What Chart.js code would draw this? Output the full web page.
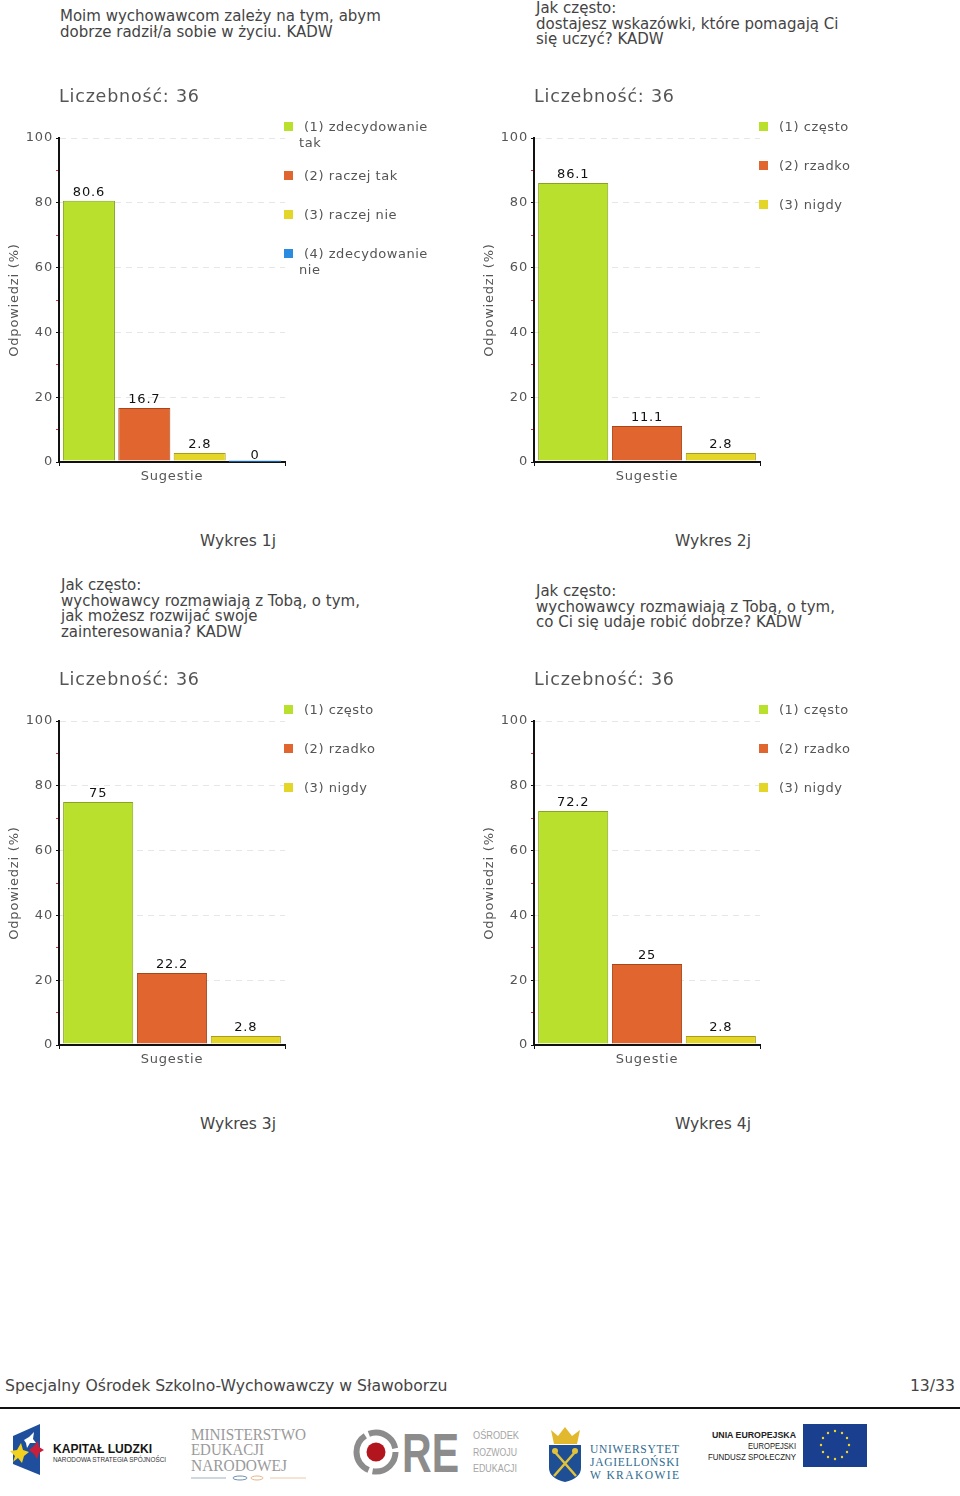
<!DOCTYPE html>
<html lang="pl"><head><meta charset="utf-8">
<script src="https://cdn.jsdelivr.net/npm/chart.js@4"></script>
<style>
html,body{margin:0;padding:0;background:#fff}
body{width:960px;height:1496px;position:relative;overflow:hidden;font-family:"DejaVu Sans",sans-serif;color:#444;filter:blur(.3px)}
canvas{position:absolute}
.q{position:absolute;font-size:15px;line-height:15.6px;white-space:pre;color:#444}
.w{position:absolute;width:200px;text-align:center;font-size:15.5px;color:#444}
.lg{position:absolute;width:140px;font-size:13px;line-height:16px;letter-spacing:.55px;color:#555}
.lg div{position:relative;text-indent:5px;margin-bottom:23px}
.lg div.two{margin-bottom:17px}
.lg i{position:absolute;left:-15px;top:3px;width:9px;height:9px}
#foot{position:absolute;left:5px;top:1376px;font-size:15.65px;color:#444}
#page{position:absolute;right:5px;top:1376px;font-size:15.65px;color:#444}
#rule{position:absolute;left:0;top:1407px;width:960px;height:2px;background:#111}
svg{position:absolute;left:0;top:1410px}
</style></head><body>
<script>
const categories = ['Sugestie'];
const values1 = [80.6, 16.7, 2.8, 0];
const values2 = [86.1, 11.1, 2.8];
const values3 = [75, 22.2, 2.8];
const values4 = [72.2, 25, 2.8];
const labelsAgree = ['(1) zdecydowanie tak', '(2) raczej tak', '(3) raczej nie', '(4) zdecydowanie nie'];
const labelsFreq = ['(1) często', '(2) rzadko', '(3) nigdy'];
const sampleTitle = 'Liczebność: 36';
const yTitle = 'Odpowiedzi (%)';
const fills = ['#b9e02c', '#e0652e', '#e4d628', '#2a8ce0'];
const edges = ['#86a420', '#a8461a', '#a89c1a', '#1a64a8'];
const q1 = 'Moim wychowawcom zależy na tym, abym\ndobrze radził/a sobie w życiu. KADW';
const q2 = 'Jak często:\ndostajesz wskazówki, które pomagają Ci\nsię uczyć? KADW';
const q3 = 'Jak często:\nwychowawcy rozmawiają z Tobą, o tym,\njak możesz rozwijać swoje\nzainteresowania? KADW';
const q4 = 'Jak często:\nwychowawcy rozmawiają z Tobą, o tym,\nco Ci się udaje robić dobrze? KADW';

const spacing = {
  id: 'spacing',
  beforeDraw(chart) { chart.ctx.letterSpacing = '0.8px'; }
};
const valueLabels = {
  id: 'valueLabels',
  afterDatasetsDraw(chart) {
    const c = chart.ctx;
    c.save();
    c.font = '13px "DejaVu Sans"';
    c.fillStyle = '#111';
    c.textAlign = 'center';
    c.textBaseline = 'middle';
    chart.data.datasets.forEach((d, i) => {
      const bar = chart.getDatasetMeta(i).data[0];
      c.fillText(String(d.data[0]), bar.x, bar.y - (d.data[0] === 0 ? 6.5 : 8.5));
    });
    c.restore();
  }
};

function place(cfg) {
  const { x, y, values, labels, q, qx, qy, name } = cfg;
  const qe = document.createElement('div');
  qe.className = 'q'; qe.textContent = q;
  qe.style.left = qx + 'px'; qe.style.top = qy + 'px';
  document.body.appendChild(qe);

  const cv = document.createElement('canvas');
  cv.width = 287; cv.height = 404;
  cv.style.left = x + 'px'; cv.style.top = (y - 52) + 'px';
  document.body.appendChild(cv);

  new Chart(cv, {
    type: 'bar',
    data: {
      labels: categories,
      datasets: values.map((v, i) => ({
        label: labels[i], data: [v],
        backgroundColor: fills[i], borderColor: edges[i], borderWidth: 1,
        base: 0.5,
        categoryPercentage: 0.98,
        barPercentage: values.length === 4 ? 0.94 : 0.95
      }))
    },
    options: {
      responsive: false, animation: false,
      layout: { padding: { left: 0, right: 2, top: 0, bottom: 0 } },
      plugins: {
        legend: { display: false }, tooltip: { enabled: false },
        title: {
          display: true, text: sampleTitle, align: 'start', fullSize: false,
          color: '#555', font: { family: '"DejaVu Sans"', size: 17.5, weight: 'normal' },
          padding: { top: 1, bottom: 30 }
        }
      },
      scales: {
        x: {
          afterFit: s => { s.height = 28; },
          border: { color: '#111', width: 2 },
          grid: { drawOnChartArea: false, tickColor: '#111', tickLength: 4 },
          ticks: { color: '#555', font: { family: '"DejaVu Sans"', size: 13 }, padding: 3 }
        },
        y: {
          min: 0, max: 100,
          afterFit: s => { s.width = 59; },
          border: { color: '#111', width: 2, dash: [6, 5] },
          title: { display: true, text: yTitle, color: '#555', font: { family: '"DejaVu Sans"', size: 13 }, padding: { top: 7, bottom: 0 } },
          grid: {
            color: c => c.tick.value % 20 === 0 ? '#e6e6e6' : 'transparent',
            tickColor: c => c.tick.value % 20 === 0 ? '#111' : '#d03040',
            tickLength: 3, tickBorderDash: []
          },
          ticks: {
            stepSize: 10, autoSkip: false, padding: 3, color: '#555',
            font: { family: '"DejaVu Sans"', size: 13 },
            callback: v => v % 20 === 0 ? String(v) : ''
          }
        }
      }
    },
    plugins: [spacing, valueLabels]
  });

  const lg = document.createElement('div');
  lg.className = 'lg';
  lg.style.left = (x + 299) + 'px'; lg.style.top = (y - 19) + 'px';
  labels.forEach((t, i) => {
    const it = document.createElement('div');
    if (t.length > 16) it.className = 'two';
    const sw = document.createElement('i');
    sw.style.background = fills[i];
    it.appendChild(sw);
    it.appendChild(document.createTextNode(t));
    lg.appendChild(it);
  });
  document.body.appendChild(lg);

  const w = document.createElement('div');
  w.className = 'w'; w.textContent = name;
  w.style.left = (x + 138) + 'px'; w.style.top = (y + 394) + 'px';
  document.body.appendChild(w);
}

place({ x: 0,   y: 138, values: values1, labels: labelsAgree, q: q1, qx: 60,  qy: 9,   name: 'Wykres 1j' });
place({ x: 475, y: 138, values: values2, labels: labelsFreq,  q: q2, qx: 536, qy: 1,   name: 'Wykres 2j' });
place({ x: 0,   y: 721, values: values3, labels: labelsFreq,  q: q3, qx: 61,  qy: 578, name: 'Wykres 3j' });
place({ x: 475, y: 721, values: values4, labels: labelsFreq,  q: q4, qx: 536, qy: 584, name: 'Wykres 4j' });
</script>
<div id="foot">Specjalny Ośrodek Szkolno-Wychowawczy w Sławoborzu</div>
<div id="page">13/33</div>
<div id="rule"></div>
<svg width="960" height="86" viewBox="0 1410 960 86" font-family="Liberation Sans">
  <polygon points="13,1436 40,1424 40,1475 13,1464" fill="#1f4f9c"/>
  <polygon points="24,1440 29,1437 34,1432 33,1439 36,1443 30,1443 27,1448 26,1443" fill="#fff"/>
  <polygon points="10,1451 17,1450 21,1443 23,1450 29,1452 24,1456 22,1463 18,1458 13,1462 15,1456" fill="#f2d21e"/>
  <polygon points="29,1450 34,1446 38,1441 39,1447 44,1450 39,1453 37,1459 34,1454" fill="#c8203a"/>
  <text x="53" y="1453" font-size="13.5" font-weight="bold" fill="#151515" textLength="99" lengthAdjust="spacingAndGlyphs">KAPITAŁ LUDZKI</text>
  <text x="53" y="1462" font-size="7" fill="#333" textLength="113" lengthAdjust="spacingAndGlyphs">NARODOWA STRATEGIA SPÓJNOŚCI</text>
  <g font-family="Liberation Serif" font-size="16.5" fill="#9a9a9a">
    <text x="191" y="1440" textLength="115" lengthAdjust="spacingAndGlyphs">MINISTERSTWO</text>
    <text x="191" y="1455" textLength="73" lengthAdjust="spacingAndGlyphs">EDUKACJI</text>
    <text x="191" y="1471" textLength="96" lengthAdjust="spacingAndGlyphs">NARODOWEJ</text>
  </g>
  <line x1="191" y1="1478" x2="226" y2="1478" stroke="#9fb0c4" stroke-width="1"/>
  <line x1="270" y1="1478" x2="306" y2="1478" stroke="#ecc9a8" stroke-width="1"/>
  <ellipse cx="240" cy="1478" rx="7" ry="2" fill="none" stroke="#6f8fb0"/>
  <ellipse cx="257" cy="1478" rx="6" ry="2" fill="none" stroke="#e5b58c"/>
  <circle cx="376" cy="1452" r="19.5" fill="none" stroke="#8c8c8c" stroke-width="6" stroke-dasharray="34 4 42 4"/>
  <circle cx="376" cy="1452" r="9.5" fill="#b3151f"/>
  <text x="402" y="1472" font-size="56" font-weight="bold" fill="#8c8c8c" textLength="57" lengthAdjust="spacingAndGlyphs">RE</text>
  <g font-size="10" fill="#a5a5a5">
    <text x="473" y="1439" textLength="46" lengthAdjust="spacingAndGlyphs">OŚRODEK</text>
    <text x="473" y="1456" textLength="44" lengthAdjust="spacingAndGlyphs">ROZWOJU</text>
    <text x="473" y="1472" textLength="44" lengthAdjust="spacingAndGlyphs">EDUKACJI</text>
  </g>
  <polygon points="551,1430 558,1436 565,1427 572,1436 580,1430 577,1444 554,1444" fill="#e2b92e"/>
  <path d="M549,1445 H581 V1468 Q581,1478 565,1482 Q549,1478 549,1468 Z" fill="#1e4f95"/>
  <path d="M554,1451 L576,1476 M576,1451 L554,1476" stroke="#e2c23a" stroke-width="2.5"/>
  <circle cx="555" cy="1451" r="3" fill="#e2c23a"/><circle cx="575" cy="1451" r="3" fill="#e2c23a"/>
  <g font-family="Liberation Serif" font-size="11.5" fill="#2d6a8f">
    <text x="590" y="1453" textLength="89" lengthAdjust="spacing">UNIWERSYTET</text>
    <text x="590" y="1466" textLength="89" lengthAdjust="spacing">JAGIELLOŃSKI</text>
    <text x="590" y="1479" textLength="89" lengthAdjust="spacing">W KRAKOWIE</text>
  </g>
  <g font-size="9" text-anchor="end" fill="#222">
    <text x="796" y="1438" font-weight="bold" textLength="84" lengthAdjust="spacingAndGlyphs">UNIA EUROPEJSKA</text>
    <text x="796" y="1449" textLength="48" lengthAdjust="spacingAndGlyphs">EUROPEJSKI</text>
    <text x="796" y="1460" textLength="88" lengthAdjust="spacingAndGlyphs">FUNDUSZ SPOŁECZNY</text>
  </g>
  <rect x="803" y="1424" width="64" height="43" fill="#1b3f8f"/>
  <g fill="#f0d828">
    <circle cx="835" cy="1431" r="1.2"/><circle cx="842" cy="1433" r="1.2"/><circle cx="847" cy="1438" r="1.2"/>
    <circle cx="849" cy="1445" r="1.2"/><circle cx="847" cy="1452" r="1.2"/><circle cx="842" cy="1457" r="1.2"/>
    <circle cx="835" cy="1459" r="1.2"/><circle cx="828" cy="1457" r="1.2"/><circle cx="823" cy="1452" r="1.2"/>
    <circle cx="821" cy="1445" r="1.2"/><circle cx="823" cy="1438" r="1.2"/><circle cx="828" cy="1433" r="1.2"/>
  </g>
</svg>
</body></html>
